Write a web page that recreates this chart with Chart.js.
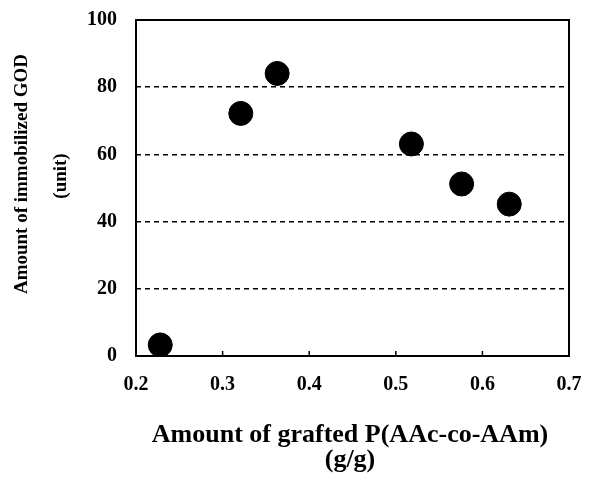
<!DOCTYPE html>
<html>
<head>
<meta charset="utf-8">
<script src="https://cdn.jsdelivr.net/npm/chart.js@4"></script>
<style>
  html, body { margin: 0; padding: 0; background: #fff; }
  #wrap { width: 589px; height: 479px; }
</style>
</head>
<body>
<div id="wrap"><canvas id="c"></canvas></div>
<script>
const graftAmount = [0.228, 0.321, 0.363, 0.518, 0.576, 0.631];
const immobilizedGOD = [3.3, 72.2, 84.1, 63.1, 51.2, 45.2];
const xTicks = [0.2, 0.3, 0.4, 0.5, 0.6, 0.7];
const yTicks = [0, 20, 40, 60, 80, 100];
const xTitle = ['Amount of grafted P(AAc-co-AAm)', '(g/g)'];
const yTitle = ['Amount of immobilized GOD', '(unit)'];

const serif = '"Liberation Serif", "Times New Roman", serif';

// frame, inward ticks and axis titles
const decor = {
  id: 'decor',
  afterDraw(chart) {
    const { ctx, chartArea: a, scales } = chart;
    ctx.save();
    ctx.strokeStyle = '#000';
    ctx.lineWidth = 2;
    ctx.strokeRect(a.left, a.top, a.right - a.left, a.bottom - a.top);
    ctx.lineWidth = 1.5;
    xTicks.slice(1, -1).forEach(v => {
      const x = scales.x.getPixelForValue(v);
      ctx.beginPath();
      ctx.moveTo(x, a.bottom);
      ctx.lineTo(x, a.bottom - 5);
      ctx.stroke();
    });
    ctx.fillStyle = '#000';
    ctx.textAlign = 'center';
    ctx.textBaseline = 'alphabetic';
    ctx.font = 'bold 26px ' + serif;
    ctx.fillText(xTitle[0], 350, 442);
    ctx.fillText(xTitle[1], 350, 467);
    ctx.translate(27, 174);
    ctx.rotate(-Math.PI / 2);
    ctx.font = 'bold 19px ' + serif;
    ctx.fillText(yTitle[0], 0, 0);
    ctx.fillText(yTitle[1], -2, 39);
    ctx.restore();
  }
};

new Chart(document.getElementById('c'), {
  type: 'scatter',
  data: {
    datasets: [{
      data: graftAmount.map((x, i) => ({ x, y: immobilizedGOD[i] })),
      backgroundColor: '#000',
      borderColor: '#000',
      pointRadius: 12,
      pointHoverRadius: 12
    }]
  },
  options: {
    responsive: true,
    maintainAspectRatio: false,
    animation: false,
    events: [],
    layout: { padding: { top: 20, right: 20, left: 0, bottom: 0 } },
    plugins: { legend: { display: false }, tooltip: { enabled: false } },
    scales: {
      x: {
        type: 'linear',
        min: 0.2, max: 0.7,
        afterBuildTicks: s => { s.ticks = xTicks.map(v => ({ value: v })); },
        afterFit: s => { s.height = 123; s.paddingLeft = 0; s.paddingRight = 0; },
        grid: { display: false, drawTicks: false },
        border: { display: false },
        ticks: {
          color: '#000',
          padding: 17,
          font: { family: serif, size: 20, weight: 'bold' },
          callback: v => v.toFixed(1)
        }
      },
      y: {
        min: 0, max: 100,
        afterBuildTicks: s => { s.ticks = yTicks.map(v => ({ value: v })); },
        afterFit: s => { s.width = 136; s.paddingTop = 0; s.paddingBottom = 0; },
        grid: {
          drawTicks: false,
          color: c => (c.tick && c.tick.value > 0 && c.tick.value < 100) ? '#000' : 'rgba(0,0,0,0)',
          lineWidth: 1.5
        },
        border: { display: false, dash: [5, 4] },
        ticks: {
          color: '#000',
          padding: 19,
          font: { family: serif, size: 20, weight: 'bold' }
        }
      }
    }
  },
  plugins: [decor]
});
</script>
</body>
</html>
